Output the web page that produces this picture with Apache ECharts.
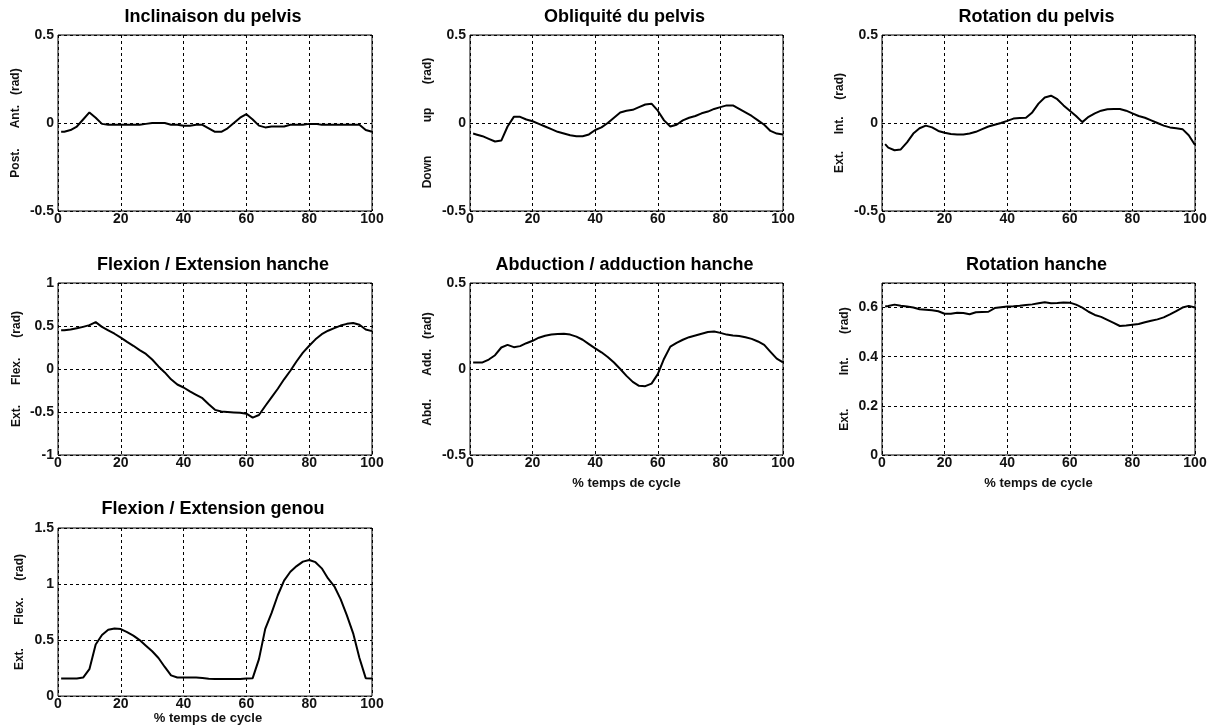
<!DOCTYPE html>
<html><head><meta charset="utf-8">
<script src="https://cdn.jsdelivr.net/npm/echarts@6/dist/echarts.min.js"></script>
<style>html,body{margin:0;padding:0;background:#fff}#c{width:1212px;height:726px}</style>
</head><body><div id="c"></div>
<script>
// ---- data (% of gait cycle and joint angles in rad) ----
const pct = [1,2,4,6,8,10,12,14,16,18,20,22,24,26,28,30,32,34,36,38,40,42,44,46,48,50,52,54,56,58,60,62,64,66,68,70,72,74,76,78,80,82,84,86,88,90,92,94,96,98,100];

const inclinaisonPelvis = [-0.05,-0.05,-0.04,-0.02,0.02,0.06,0.03,-0.005,-0.01,-0.01,-0.01,-0.01,-0.01,-0.01,-0.005,0.0,0.0,0.0,-0.01,-0.01,-0.015,-0.015,-0.01,-0.01,-0.03,-0.05,-0.05,-0.03,0.0,0.03,0.05,0.02,-0.015,-0.025,-0.02,-0.02,-0.02,-0.01,-0.01,-0.01,-0.005,-0.005,-0.01,-0.01,-0.01,-0.01,-0.01,-0.01,-0.01,-0.04,-0.05];

const obliquitePelvis = [-0.06,-0.065,-0.075,-0.09,-0.105,-0.1,-0.02,0.035,0.035,0.02,0.01,-0.005,-0.02,-0.035,-0.05,-0.06,-0.07,-0.075,-0.075,-0.065,-0.04,-0.025,0.0,0.03,0.06,0.07,0.075,0.09,0.105,0.11,0.07,0.015,-0.02,-0.01,0.015,0.03,0.04,0.055,0.065,0.08,0.09,0.1,0.1,0.08,0.06,0.04,0.015,-0.01,-0.045,-0.06,-0.065];

const rotationPelvis = [-0.12,-0.14,-0.155,-0.15,-0.11,-0.06,-0.03,-0.015,-0.025,-0.045,-0.055,-0.063,-0.065,-0.065,-0.06,-0.05,-0.035,-0.02,-0.01,0.0,0.012,0.025,0.028,0.03,0.06,0.11,0.145,0.155,0.135,0.1,0.07,0.04,0.005,0.035,0.055,0.07,0.078,0.08,0.08,0.07,0.055,0.04,0.03,0.015,0.0,-0.015,-0.025,-0.03,-0.035,-0.07,-0.125];

const flexionHanche = [0.45,0.45,0.46,0.475,0.49,0.51,0.545,0.49,0.45,0.41,0.365,0.315,0.27,0.22,0.175,0.11,0.03,-0.04,-0.12,-0.18,-0.215,-0.26,-0.3,-0.34,-0.41,-0.475,-0.495,-0.5,-0.505,-0.51,-0.52,-0.565,-0.535,-0.43,-0.33,-0.23,-0.12,-0.02,0.09,0.19,0.27,0.345,0.405,0.445,0.475,0.505,0.525,0.535,0.515,0.46,0.44];

const abductionHanche = [0.038,0.038,0.038,0.055,0.08,0.125,0.14,0.127,0.133,0.15,0.164,0.182,0.193,0.2,0.204,0.205,0.2,0.188,0.17,0.145,0.12,0.097,0.07,0.038,0.0,-0.04,-0.075,-0.098,-0.1,-0.085,-0.03,0.06,0.13,0.152,0.17,0.185,0.195,0.205,0.215,0.218,0.21,0.2,0.195,0.192,0.185,0.175,0.16,0.14,0.1,0.06,0.038];

const rotationHanche = [0.604,0.606,0.612,0.607,0.604,0.6,0.593,0.591,0.589,0.585,0.575,0.575,0.579,0.578,0.573,0.581,0.582,0.583,0.598,0.601,0.604,0.605,0.607,0.61,0.613,0.618,0.622,0.618,0.619,0.621,0.62,0.612,0.6,0.583,0.57,0.562,0.55,0.538,0.525,0.527,0.53,0.533,0.54,0.546,0.552,0.56,0.572,0.586,0.6,0.607,0.6];

const flexionGenou = [0.158,0.158,0.158,0.158,0.165,0.24,0.46,0.545,0.592,0.604,0.598,0.57,0.54,0.5,0.45,0.4,0.34,0.26,0.185,0.166,0.166,0.166,0.166,0.162,0.155,0.152,0.152,0.152,0.152,0.153,0.158,0.16,0.33,0.6,0.74,0.9,1.03,1.11,1.16,1.2,1.215,1.195,1.14,1.05,0.98,0.865,0.72,0.56,0.34,0.16,0.158];

const titles = ["Inclinaison du pelvis","Obliquité du pelvis","Rotation du pelvis","Flexion / Extension hanche","Abduction / adduction hanche","Rotation hanche","Flexion / Extension genou"];
const yLabels = [
  "Post.      Ant.   (rad)",
  "Down          up       (rad)",
  "Ext.     Int.     (rad)",
  "Ext.      Flex.      (rad)",
  "Abd.       Add.   (rad)",
  "Ext.          Int.       (rad)",
  "Ext.       Flex.     (rad)"
];
const xLabel = "% temps de cycle";
const yMin = [-0.5,-0.5,-0.5,-1,-0.5,0,0];
const yMax = [0.5,0.5,0.5,1,0.5,0.7,1.5];
const yStep = [0.5,0.5,0.5,0.5,0.5,0.2,0.5];
const xTicks = [0,100,20];
const seriesList = [inclinaisonPelvis,obliquitePelvis,rotationPelvis,flexionHanche,abductionHanche,rotationHanche,flexionGenou];

// ---- layout ----
const FONT = "'Liberation Sans', Arial, sans-serif";
const lefts = [58,470,882];
const widths = [314,313,313];
const tops = [35,283,528];
const heights = [176,172,170];
const titleTops = [8,256,500];
const nameGaps = [36,36,36,35,36,31,32];
const xNameGap = {4:22,5:22,6:14};

const grids=[],xAxes=[],yAxes=[],series=[],titleOpts=[];
for(let i=0;i<7;i++){
  const r=Math.floor(i/3), c=i%3;
  grids.push({left:lefts[c],top:tops[r],width:widths[c],height:heights[r],show:true,borderColor:'#000',borderWidth:1,backgroundColor:'#fff',containLabel:false});
  titleOpts.push({text:titles[i],left:lefts[c]+widths[c]/2-2,top:titleTops[r],textAlign:'center',padding:0,
    textStyle:{fontFamily:FONT,fontSize:18,fontWeight:'bold',color:'#000'}});
  const xa={type:'value',gridIndex:i,min:xTicks[0],max:xTicks[1],interval:xTicks[2],
    axisLine:{show:false},axisTick:{show:false},
    axisLabel:{margin:1,fontFamily:FONT,fontSize:14,fontWeight:'bold',color:'#111'},
    splitLine:{show:true,lineStyle:{color:'#000',type:[3,3],width:1}}};
  if(xNameGap[i]!==undefined){
    xa.name=xLabel; xa.nameLocation='middle'; xa.nameGap=xNameGap[i];
    xa.nameTextStyle={fontFamily:FONT,fontSize:13,fontWeight:'bold',color:'#111',padding: i===6?[0,14,0,0]:0};
  }
  xAxes.push(xa);
  yAxes.push({type:'value',gridIndex:i,min:yMin[i],max:yMax[i],interval:yStep[i],
    name:yLabels[i],nameLocation:'middle',nameGap:nameGaps[i],
    nameTextStyle:{fontFamily:FONT,fontSize:12,fontWeight:'bold',color:'#111'},
    axisLine:{show:false},axisTick:{show:false},
    axisLabel:{margin:4,fontFamily:FONT,fontSize:14,fontWeight:'bold',color:'#111',showMaxLabel: i!==5},
    splitLine:{show:true,lineStyle:{color:'#000',type:[3,3],width:1}}});
  series.push({type:'line',xAxisIndex:i,yAxisIndex:i,data:pct.map((x,k)=>[x,seriesList[i][k]]),
    showSymbol:false,symbol:'none',smooth:false,lineStyle:{color:'#000',width:2},animation:false});
}

const chart=echarts.init(document.getElementById('c'),null,{renderer:'canvas'});
chart.setOption({backgroundColor:'#fff',animation:false,title:titleOpts,grid:grids,xAxis:xAxes,yAxis:yAxes,series:series});
</script></body></html>
